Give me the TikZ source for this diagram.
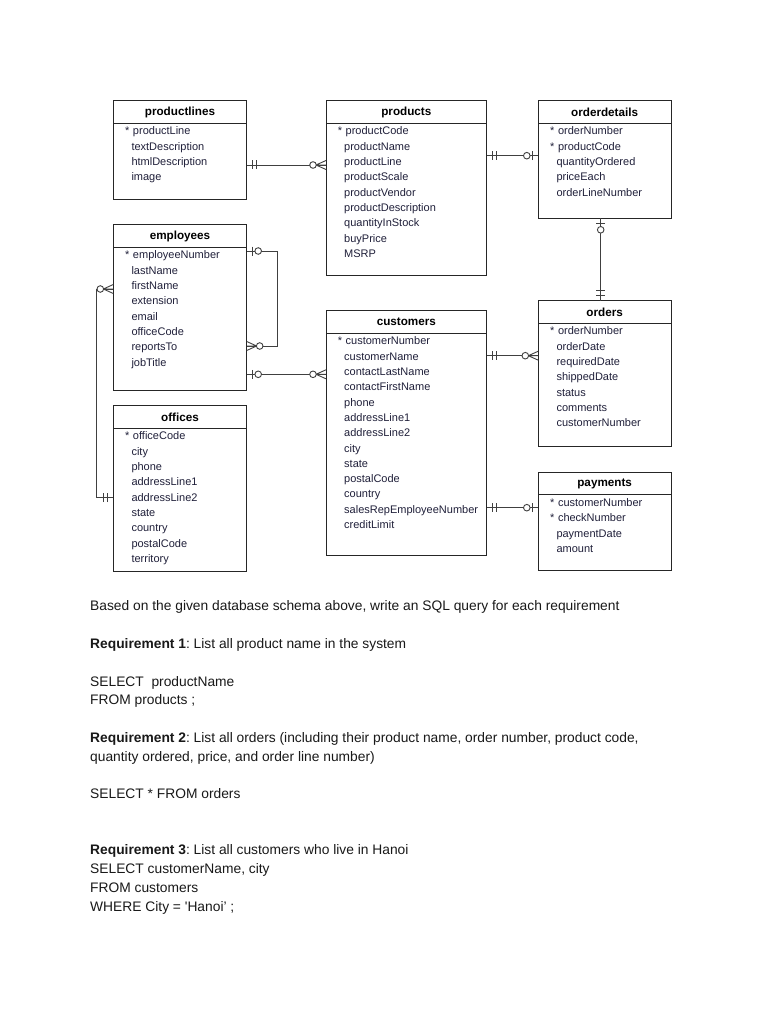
\documentclass[tikz,border=0pt]{standalone}
\usepackage{fontspec}
\setmainfont{Liberation Sans}
\frenchspacing
\newcommand\keymark{\llap{*\hspace{2pt}}\hspace{1.5pt}}
\newcommand\ertab[7]{%
  \node[tbox, minimum width={#5-#3}, minimum height={#6-#4}] (#1) at ({(#3+#5)/2},{(#4+#6)/2}) {};
  \draw[boxline] ({#3},{#4+22.5}) -- ({#5},{#4+22.5});
  \node[ttl] (#1-title) at ({(#3+#5)/2},{#4+11.5}) {#2};
  \foreach \f [count=\i] in {#7} {%
    \node[fld] (#1-f\i) at ({#3+18},{#4+34.2+(\i-1)*15.3}) {\f};
  }%
}
\begin{document}
\begin{tikzpicture}[x=1pt,y=-1pt,
  tbox/.style={draw=black!85, line width=0.9pt, inner sep=0pt, outer sep=0pt, rectangle},
  boxline/.style={draw=black!85, line width=0.9pt},
  ttl/.style={font=\fontsize{11.7}{13}\selectfont\bfseries, text=black, inner sep=0pt},
  fld/.style={font=\fontsize{11}{13}\selectfont, text={rgb,255:red,32;green,32;blue,58}, anchor=base west, inner sep=0pt},
  conn/.style={draw=black!75, line width=0.9pt},
  body/.style={font=\fontsize{13.8}{19}\selectfont, text=black!90, anchor=base west, inner sep=0pt},
  one/.pic={\draw[conn] (5.5,-4.5)--(5.5,4.5) (10,-4.5)--(10,4.5);},
  zeroone/.pic={\draw[conn] (5.5,-4.5)--(5.5,4.5); \draw[conn, fill=white] (11.5,0) circle (3.3pt);},
  zeromany/.pic={\draw[conn] (0,4.5)--(10,0)--(0,-4.5) (0,0)--(10,0); \draw[conn, fill=white] (13,0) circle (3.3pt);}
]
\useasboundingbox[fill=white] (0,0) rectangle (768,1024);

\ertab{pl}{productlines}{113.3}{100.7}{246.7}{199}{\keymark productLine,textDescription,htmlDescription,image}
\ertab{pr}{products}{326}{100.7}{486.7}{275}{\keymark productCode,productName,productLine,productScale,productVendor,productDescription,quantityInStock,buyPrice,MSRP}
\ertab{od}{orderdetails}{538.3}{100.7}{671}{218.3}{\keymark orderNumber,\keymark productCode,quantityOrdered,priceEach,orderLineNumber}
\ertab{emp}{employees}{113.3}{224.7}{246.7}{390}{\keymark employeeNumber,lastName,firstName,extension,email,officeCode,reportsTo,jobTitle}
\ertab{off}{offices}{113.3}{405.7}{246.7}{571.7}{\keymark officeCode,city,phone,addressLine1,addressLine2,state,country,postalCode,territory}
\ertab{cu}{customers}{326}{310.7}{486.7}{555}{\keymark customerNumber,customerName,contactLastName,contactFirstName,phone,addressLine1,addressLine2,city,state,postalCode,country,salesRepEmployeeNumber,creditLimit}
\ertab{ord}{orders}{538.3}{300.7}{671}{446.7}{\keymark orderNumber,orderDate,requiredDate,shippedDate,status,comments,customerNumber}
\ertab{pay}{payments}{538.3}{472.3}{671}{570.7}{\keymark customerNumber,\keymark checkNumber,paymentDate,amount}

% productlines -- products
\draw[conn] (pl.east |- 0,165) -- (pr.west |- 0,165);
\pic at (pl.east |- 0,165) {one};
\pic[rotate=180] at (pr.west |- 0,165) {zeromany};
% products -- orderdetails
\draw[conn] (pr.east |- 0,155.7) -- (od.west |- 0,155.7);
\pic at (pr.east |- 0,155.7) {one};
\pic[rotate=180] at (od.west |- 0,155.7) {zeroone};
% orderdetails -- orders
\draw[conn] (od.south -| 600.7,0) -- (ord.north -| 600.7,0);
\pic[rotate=-90] at (od.south -| 600.7,0) {zeroone};
\pic[rotate=90] at (ord.north -| 600.7,0) {one};
% employees self relation
\draw[conn] (emp.east |- 0,251) -- ++(30.6,0) |- (emp.east |- 0,346);
\pic at (emp.east |- 0,251) {zeroone};
\pic at (emp.east |- 0,346) {zeromany};
% employees -- customers
\draw[conn] (emp.east |- 0,374.3) -- (cu.west |- 0,374.3);
\pic at (emp.east |- 0,374.3) {zeroone};
\pic[rotate=180] at (cu.west |- 0,374.3) {zeromany};
% employees -- offices
\draw[conn] (emp.west |- 0,289) -- ++(-17.3,0) |- (off.west |- 0,497.7);
\pic[rotate=180] at (emp.west |- 0,289) {zeromany};
\pic[rotate=180] at (off.west |- 0,497.7) {one};
% customers -- orders
\draw[conn] (cu.east |- 0,355.7) -- (ord.west |- 0,355.7);
\pic at (cu.east |- 0,355.7) {one};
\pic[rotate=180] at (ord.west |- 0,355.7) {zeromany};
% customers -- payments
\draw[conn] (cu.east |- 0,507.7) -- (pay.west |- 0,507.7);
\pic at (cu.east |- 0,507.7) {one};
\pic[rotate=180] at (pay.west |- 0,507.7) {zeroone};

% body text
\node[body] (t1) at (90,610) {Based on the given database schema above, write an SQL query for each requirement};
\node[body] (t2) at (90,648) {\textbf{Requirement 1}: List all product name in the system};
\node[body] (t3) at (90,686) {SELECT\ \ productName};
\node[body] (t4) at (90,704) {FROM products ;};
\node[body] (t5) at (90,742) {\textbf{Requirement 2}: List all orders (including their product name, order number, product code,};
\node[body] (t6) at (90,761) {quantity ordered, price, and order line number)};
\node[body] (t7) at (90,798) {SELECT * FROM orders};
\node[body] (t8) at (90,854) {\textbf{Requirement 3}: List all customers who live in Hanoi};
\node[body] (t9) at (90,873) {SELECT customerName, city};
\node[body] (t10) at (90,892) {FROM customers};
\node[body] (t11) at (90,911) {WHERE City = \textquotesingle Hanoi’ ;};
\end{tikzpicture}
\end{document}
